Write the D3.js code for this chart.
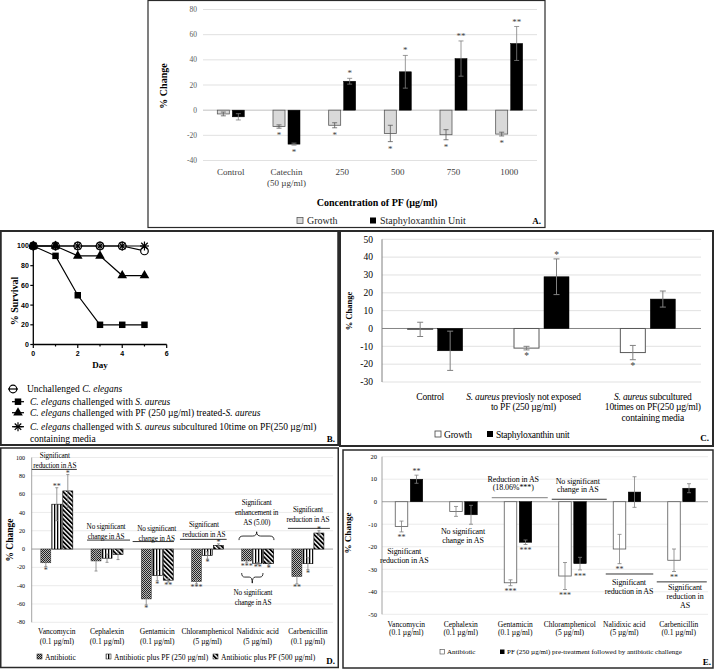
<!DOCTYPE html>
<html><head><meta charset="utf-8">
<script src="https://cdn.jsdelivr.net/npm/d3@7"></script>
<style>body{margin:0;background:#fff}svg{display:block}</style>
</head><body>
<script>
// ================= DATA =================
// Panel A
const aCategories = ["Control", "Catechin|(50 µg/ml)", "250", "500", "750", "1000"];
const aGrowth = [-3, -13, -12, -18.5, -19.5, -19];
const aGrowthErr = [1.5, 1.3, 2, 6.5, 4, 1.5];
const aStaph = [-5.3, -27, 23, 30.5, 41, 53];
const aStaphErr = [2.5, 0.8, 2.3, 13, 14, 13.5];
const aGrowthSig = ["", "*", "*", "*", "*", "*"];
const aStaphSig = ["", "*", "*", "*", "**", "**"];
const aTicks = [-40, -20, 0, 20, 40, 60, 80];

// Panel B
const bDays = [0, 1, 2, 3, 4, 5];
const bUnchallenged = [100, 100, 100, 100, 100, 95];
const bSaureus = [100, 90, 50, 20, 20, 20];
const bPFtreated = [100, 100, 90, 90, 70, 70];
const bSubcultured = [100, 100, 100, 100, 100, 100];
const bYTicks = [0, 20, 40, 60, 80, 100];
const bXTicks = [0, 2, 4, 6];
const bLegend = [
  "Unchallenged ~C. elegans~",
  "~C. elegans~ challenged with ~S. aureus~",
  "~C. elegans~ challenged with PF (250 µg/ml) treated-~S. aureus~",
  "~C. elegans~ challenged with ~S. aureus~ subcultured 10time on PF(250 µg/ml)|containing media"
];

// Panel C
const cCategories = ["Control", "~S. aureus~ previosly not exposed|to PF (250 µg/ml)", "~S. aureus~ subcultured|10times on PF(250 µg/ml)|containing media"];
const cGrowth = [-0.5, -11, -13.5];
const cGrowthErr = [4, 1, 4];
const cStaph = [-12.5, 29, 16.5];
const cStaphErr = [11, 10, 4.5];
const cGrowthSig = ["", "*", "*"];
const cStaphSig = ["", "*", ""];
const cTicks = [-30, -20, -10, 0, 10, 20, 30, 40, 50];

// Panel D
const dCategories = ["Vancomycin|(0.1 µg/ml)", "Cephalexin|(0.1 µg/ml)", "Gentamicin|(0.1 µg/ml)", "Chloramphenicol|(5 µg/ml)", "Nalidixic acid|(5 µg/ml)", "Carbenicillin|(0.1 µg/ml)"];
const dAntibiotic = [-15, -13, -54.5, -35.5, -13, -30];
const dAntibioticErr = [4, 11, 6.5, 2.5, 2, 8];
const dPF250 = [49, -10, -29, -7, -15.5, -16];
const dPF250Err = [18, 4.5, 5.5, 4, 1, 6.5];
const dPF500 = [63.5, -6, -34, 4, -16, 17.5];
const dPF500Err = [18, 5.5, 2, 1.7, 1.5, 2.5];
const dAntibioticSig = ["*", "", "*", "***", "***", "**"];
const dPF250Sig = ["**", "", "*", "*", "**", "*"];
const dPF500Sig = ["*", "", "**", "*", "*", "*"];
const dTicks = [-80, -60, -40, -20, 0, 20, 40, 60, 80, 100];

// Panel E
const eCategories = ["Vancomycin|(0.1 µg/ml)", "Cephalexin|(0.1 µg/ml)", "Gentamicin|(0.1 µg/ml)", "Chloramphenicol|(5 µg/ml)", "Nalidixic acid|(5 µg/ml)", "Carbenicillin|(0.1 µg/ml)"];
const eAntibiotic = [-11, -4.3, -36, -33, -21, -26];
const eAntibioticErr = [2.4, 2.2, 1.3, 6, 6.5, 5];
const ePF = [10, -5.8, -18, -27.5, 4.3, 6];
const ePFErr = [1.8, 4.2, 1, 2.8, 6.8, 2];
const eAntibioticSig = ["**", "", "***", "***", "**", "**"];
const ePFSig = ["**", "", "***", "***", "", ""];
const eTicks = [-50, -40, -30, -20, -10, 0, 10, 20];

// ================= HELPERS =================
const SERIF = "'Liberation Serif','Times New Roman',serif";
const SANS = "'Liberation Sans',Arial,sans-serif";

const svg = d3.select("body").append("svg").attr("width", 714).attr("height", 669);
svg.append("rect").attr("width", 714).attr("height", 669).attr("fill", "#fff");
const defs = svg.append("defs");

function rich(g, x, y, str, size, o = {}) {
  const t = g.append("text").attr("x", x).attr("y", y)
    .attr("font-family", o.family || SERIF).attr("font-size", size)
    .attr("fill", o.fill || "#000").attr("text-anchor", o.anchor || "start");
  if (o.weight) t.attr("font-weight", o.weight);
  if (o.ls) t.attr("letter-spacing", o.ls);
  str.split("~").forEach((s, i) => { if (s) t.append("tspan").attr("font-style", i % 2 ? "italic" : null).text(s); });
  return t;
}
function multi(g, x, y, str, size, lh, o) {
  str.split("|").forEach((s, i) => rich(g, x, y + i * lh, s, size, o));
}
function errBar(g, cx, y, v, e, cap, color, sw) {
  const y1 = y(v - e), y2 = y(v + e);
  g.append("line").attr("x1", cx).attr("x2", cx).attr("y1", y1).attr("y2", y2).attr("stroke", color).attr("stroke-width", sw);
  [y1, y2].forEach(yy => g.append("line").attr("x1", cx - cap / 2).attr("x2", cx + cap / 2)
    .attr("y1", yy).attr("y2", yy).attr("stroke", color).attr("stroke-width", sw));
}
function sig(g, cx, y, v, e, s, size, off, color) {
  if (!s) return;
  const cy = v < 0 ? y(v - e) + off : y(v + e) - off;
  g.append("text").attr("x", cx).attr("y", cy + 0.45 * size).attr("text-anchor", "middle")
    .attr("font-family", SERIF).attr("font-size", size).attr("fill", color).text(s);
}
function grid(g, y, ticks, x0, x1, color, zeroColor, sw) {
  ticks.forEach(t => g.append("line").attr("x1", x0).attr("x2", x1).attr("y1", y(t)).attr("y2", y(t))
    .attr("stroke", t === 0 ? zeroColor : color).attr("stroke-width", t === 0 ? sw * 1.2 : sw));
}
function yLabels(g, y, ticks, x, size, color) {
  ticks.forEach(t => g.append("text").attr("x", x).attr("y", y(t)).attr("dy", "0.35em")
    .attr("text-anchor", "end").attr("font-family", SERIF).attr("font-size", size).attr("fill", color)
    .text(t));
}
function vLabel(g, x, cy, str, size) {
  g.append("text").attr("transform", `translate(${x},${cy}) rotate(-90)`).attr("text-anchor", "middle")
    .attr("dy", "0.35em").attr("font-family", SERIF).attr("font-size", size).attr("font-weight", "bold").text(str);
}
function frame(x, y, w, h, sw) {
  svg.append("rect").attr("x", x).attr("y", y).attr("width", w).attr("height", h)
    .attr("fill", "none").attr("stroke", "#2a2a2a").attr("stroke-width", sw);
}
function bars(g, vals, cats, x, y, dx, w, fill, stroke, sw) {
  g.append("g").selectAll("rect").data(vals).join("rect")
    .attr("x", (d, i) => x(cats[i]) + x.bandwidth() / 2 + dx)
    .attr("y", d => y(Math.max(0, d))).attr("width", w)
    .attr("height", d => Math.abs(y(d) - y(0)))
    .attr("fill", fill).attr("stroke", stroke).attr("stroke-width", sw);
}

// ================= PANEL A =================
{
  const g = svg.append("g");
  const x = d3.scaleBand().domain(aCategories).range([203, 537]);
  const y = d3.scaleLinear().domain([-40, 80]).range([160.5, 9.5]);
  grid(g, y, aTicks, 203, 537, "#d9d9d9", "#bfbfbf", 0.8);
  yLabels(g, y, aTicks, 197, 7.5, "#595959");
  bars(g, aGrowth, aCategories, x, y, -13.5, 12, "#d9d9d9", "#595959", 0.8);
  bars(g, aStaph, aCategories, x, y, 1.5, 12, "#000", "#000", 0.5);
  aCategories.forEach((c, i) => {
    const cx = x(c) + x.bandwidth() / 2;
    errBar(g, cx - 7.5, y, aGrowth[i], aGrowthErr[i], 5, "#595959", 0.8);
    errBar(g, cx + 7.5, y, aStaph[i], aStaphErr[i], 5, "#7f7f7f", 0.8);
    sig(g, cx - 7.5, y, aGrowth[i], aGrowthErr[i], aGrowthSig[i], 9, 6, "#404040");
    sig(g, cx + 7.5, y, aStaph[i], aStaphErr[i], aStaphSig[i], 9, 6, "#404040");
    multi(g, cx, 175, c, 9, 10.5, { anchor: "middle", fill: "#404040" });
  });
  g.append("text").attr("x", 377).attr("y", 206).attr("text-anchor", "middle").attr("font-family", SERIF)
    .attr("font-size", 10).attr("font-weight", "bold").text("Concentration of PF (µg/ml)");
  vLabel(g, 163, 86, "% Change", 10);
  g.append("rect").attr("x", 297).attr("y", 217.5).attr("width", 6).attr("height", 6).attr("fill", "#d9d9d9").attr("stroke", "#595959").attr("stroke-width", 0.8);
  rich(g, 307, 224, "Growth", 10, { fill: "#262626" });
  g.append("rect").attr("x", 370).attr("y", 217.5).attr("width", 6).attr("height", 6).attr("fill", "#000");
  rich(g, 380, 224, "Staphyloxanthin Unit", 10, { fill: "#262626" });
  rich(g, 541, 224, "A.", 9, { anchor: "end", weight: "bold" });
}

// ================= PANEL B =================
{
  const g = svg.append("g");
  const x = d3.scaleLinear().domain([0, 6]).range([33.3, 166.7]);
  const y = d3.scaleLinear().domain([0, 100]).range([344.5, 246]);
  g.append("line").attr("x1", x(0)).attr("x2", x(0)).attr("y1", y(0)).attr("y2", y(100)).attr("stroke", "#000").attr("stroke-width", 1.3);
  g.append("line").attr("x1", x(0)).attr("x2", x(6)).attr("y1", y(0)).attr("y2", y(0)).attr("stroke", "#000").attr("stroke-width", 1.3);
  bYTicks.forEach(t => {
    g.append("line").attr("x1", x(0) - 3).attr("x2", x(0)).attr("y1", y(t)).attr("y2", y(t)).attr("stroke", "#000").attr("stroke-width", 1.2);
    g.append("text").attr("x", x(0) - 4.5).attr("y", y(t)).attr("dy", "0.35em").attr("text-anchor", "end")
      .attr("font-family", SANS).attr("font-weight", "bold").attr("font-size", 7).text(t);
  });
  d3.range(0, 7).forEach(t => {
    g.append("line").attr("x1", x(t)).attr("x2", x(t)).attr("y1", y(0)).attr("y2", y(0) + (t % 2 ? 2 : 3.5)).attr("stroke", "#000").attr("stroke-width", 1.2);
  });
  bXTicks.forEach(t => g.append("text").attr("x", x(t)).attr("y", y(0) + 11).attr("text-anchor", "middle")
    .attr("font-family", SANS).attr("font-weight", "bold").attr("font-size", 7).text(t));
  g.append("text").attr("x", 100).attr("y", 368).attr("text-anchor", "middle").attr("font-family", SERIF)
    .attr("font-weight", "bold").attr("font-size", 9).text("Day");
  vLabel(g, 14, 301, "% Survival", 10);

  const series = [bUnchallenged, bSaureus, bPFtreated, bSubcultured];
  const line = d3.line().x((d, i) => x(bDays[i])).y(d => y(d));
  series.forEach(s => g.append("path").attr("d", line(s)).attr("fill", "none").attr("stroke", "#000").attr("stroke-width", 1.2));

  const star = (gg, cx, cy, r) => {
    [[r, 0], [0, r], [r * 0.72, r * 0.72], [r * 0.72, -r * 0.72]].forEach(([dx, dy]) =>
      gg.append("line").attr("x1", cx - dx).attr("x2", cx + dx).attr("y1", cy - dy).attr("y2", cy + dy).attr("stroke", "#000").attr("stroke-width", 1.2));
  };
  const marker = (gg, k, cx, cy) => {
    if (k === 0) gg.append("circle").attr("cx", cx).attr("cy", cy).attr("r", 3.8).attr("fill", "#fff").attr("stroke", "#000").attr("stroke-width", 1.2);
    if (k === 1) gg.append("path").attr("transform", `translate(${cx},${cy})`).attr("d", d3.symbol(d3.symbolSquare, 42)()).attr("fill", "#000");
    if (k === 2) gg.append("path").attr("transform", `translate(${cx},${cy})`).attr("d", d3.symbol(d3.symbolTriangle, 40)()).attr("fill", "#000");
    if (k === 3) star(gg, cx, cy, 4.5);
  };
  [0, 3, 1, 2].forEach(k => series[k].forEach((d, i) => marker(g, k, x(bDays[i]), y(d))));

  const ly = [389, 401.7, 412.7, 426.7];
  bLegend.forEach((txt, k) => {
    if (k === 0) {
      marker(g, 0, 13, ly[k]);
      g.append("line").attr("x1", 8).attr("x2", 18).attr("y1", ly[k]).attr("y2", ly[k]).attr("stroke", "#000").attr("stroke-width", 1.2);
      multi(g, 27, ly[k] + 3.3, txt, 9.5, 11.5, {});
    } else {
      g.append("line").attr("x1", 12).attr("x2", 24).attr("y1", ly[k]).attr("y2", ly[k]).attr("stroke", "#000").attr("stroke-width", 1.2);
      marker(g, k, 18, ly[k]);
      multi(g, 30, ly[k] + 3.3, txt, 9.5, 11.5, {});
    }
  });
  rich(g, 335, 442, "B.", 9, { anchor: "end", weight: "bold" });
}

// ================= PANEL C =================
{
  const g = svg.append("g");
  const x = d3.scaleBand().domain(cCategories).range([382, 701]);
  const y = d3.scaleLinear().domain([-30, 50]).range([382, 239.3]);
  grid(g, y, cTicks, 382, 701, "#d9d9d9", "#808080", 0.8);
  g.append("line").attr("x1", 382).attr("x2", 382).attr("y1", y(50)).attr("y2", y(-30)).attr("stroke", "#808080").attr("stroke-width", 1);
  yLabels(g, y, cTicks, 373, 9.5, "#000");
  bars(g, cGrowth, cCategories, x, y, -27.5, 25, "#fff", "#595959", 1);
  bars(g, cStaph, cCategories, x, y, 2.5, 25, "#000", "#000", 0.5);
  const labDx = [-5, -18, 5];
  cCategories.forEach((c, i) => {
    const cx = x(c) + x.bandwidth() / 2;
    errBar(g, cx - 15, y, cGrowth[i], cGrowthErr[i], 6, "#808080", 1);
    errBar(g, cx + 15, y, cStaph[i], cStaphErr[i], 6, "#808080", 1);
    sig(g, cx - 15, y, cGrowth[i], cGrowthErr[i], cGrowthSig[i], 9.5, 5, "#404040");
    sig(g, cx + 15, y, cStaph[i], cStaphErr[i], cStaphSig[i], 9.5, 5, "#404040");
    multi(g, cx + labDx[i], 399.5, c, 9.5, 10.5, { anchor: "middle", ls: -0.2 });
  });
  vLabel(g, 349, 311, "% Change", 8.5);
  g.append("rect").attr("x", 435).attr("y", 431).attr("width", 6).attr("height", 6).attr("fill", "#fff").attr("stroke", "#404040").attr("stroke-width", 0.8);
  rich(g, 444, 437.5, "Growth", 9.5, { ls: -0.2 });
  g.append("rect").attr("x", 487).attr("y", 431).attr("width", 6).attr("height", 6).attr("fill", "#000");
  rich(g, 496, 437.5, "Staphyloxanthin unit", 9.5, { ls: -0.3 });
  rich(g, 709, 441, "C.", 9, { anchor: "end", weight: "bold" });
}

// ================= PANEL D =================
{
  // patterns
  const p1 = defs.append("pattern").attr("id", "pAb").attr("patternUnits", "userSpaceOnUse").attr("width", 2).attr("height", 2);
  p1.append("rect").attr("width", 2).attr("height", 2).attr("fill", "#bbb");
  p1.append("rect").attr("width", 1).attr("height", 1).attr("fill", "#222");
  p1.append("rect").attr("x", 1).attr("y", 1).attr("width", 1).attr("height", 1).attr("fill", "#222");
  const p2 = defs.append("pattern").attr("id", "pV").attr("patternUnits", "userSpaceOnUse").attr("width", 3).attr("height", 3);
  p2.append("rect").attr("width", 3).attr("height", 3).attr("fill", "#fff");
  p2.append("rect").attr("width", 1.3).attr("height", 3).attr("fill", "#000");
  const p3 = defs.append("pattern").attr("id", "pD").attr("patternUnits", "userSpaceOnUse").attr("width", 3.2).attr("height", 3.2).attr("patternTransform", "rotate(-45)");
  p3.append("rect").attr("width", 3.2).attr("height", 3.2).attr("fill", "#fff");
  p3.append("rect").attr("width", 1.8).attr("height", 3.2).attr("fill", "#000");

  const g = svg.append("g");
  const x = d3.scaleBand().domain(dCategories).range([31.7, 333]);
  const y = d3.scaleLinear().domain([-80, 100]).range([622.3, 457.5]);
  grid(g, y, dTicks, 31.7, 333, "#e3e3e3", "#8c8c8c", 0.7);
  g.append("line").attr("x1", 31.7).attr("x2", 31.7).attr("y1", y(100)).attr("y2", y(-80)).attr("stroke", "#8c8c8c").attr("stroke-width", 0.8);
  yLabels(g, y, dTicks, 25, 6, "#000");
  bars(g, dAntibiotic, dCategories, x, y, -16, 10, "url(#pAb)", "#333", 0.5);
  bars(g, dPF250, dCategories, x, y, -5, 10, "url(#pV)", "#000", 0.6);
  bars(g, dPF500, dCategories, x, y, 6, 10, "url(#pD)", "#000", 0.6);
  dCategories.forEach((c, i) => {
    const cx = x(c) + x.bandwidth() / 2;
    [[dAntibiotic, dAntibioticErr, dAntibioticSig, -11], [dPF250, dPF250Err, dPF250Sig, 0], [dPF500, dPF500Err, dPF500Sig, 11]]
      .forEach(([v, e, s, dx]) => {
        errBar(g, cx + dx, y, v[i], e[i], 3, "#7f7f7f", 0.8);
        sig(g, cx + dx, y, v[i], e[i], s[i], 8, 2.5, "#333");
      });
    multi(g, cx, 634.2, c, 7.5, 10, { anchor: "middle" });
  });
  // annotations (anchored to category bands and value scale)
  const bc = i => x(dCategories[i]) + x.bandwidth() / 2;
  const notes = [
    { i: 0, dx: -2, v: 100, lines: "Significant|reduction in AS", ul: [87, -25, 20] },
    { i: 1, dx: -1, v: 21.7, lines: "No significant|change in AS", ul: [9.8, -20, 23] },
    { i: 2, dx: -0.6, v: 20.2, lines: "No significant|change in AS", ul: [8.2, -24.6, 16.7] },
    { i: 3, dx: -3.5, v: 24.6, lines: "Significant|reduction in AS", ul: [10.6, -27.5, 19.2] },
    { i: 4, dx: -1, v: 47.6, lines: "Significant|enhancement in|AS (5.00)" },
    { i: 4, dx: -4.7, v: -50.3, lines: "No significant|change in AS" },
    { i: 5, dx: 0, v: 40, lines: "Significant|reduction in AS", ul: [22.6, -20, 22] }
  ];
  notes.forEach(n => {
    multi(g, bc(n.i) + n.dx, y(n.v), n.lines, 7.2, 10, { anchor: "middle", ls: -0.15 });
    if (n.ul) g.append("line").attr("x1", bc(n.i) + n.ul[1]).attr("x2", bc(n.i) + n.ul[2])
      .attr("y1", y(n.ul[0])).attr("y2", y(n.ul[0])).attr("stroke", "#000").attr("stroke-width", 0.8);
  });
  // braces for Nalidixic acid
  const c4 = bc(4);
  const yb = y(14.2), ye = y(9.8), yt = y(18.9);
  g.append("path").attr("d", `M${c4 - 18.7},${ye} Q${c4 - 18.7},${yb} ${c4 - 14.7},${yb} L${c4 - 5},${yb} Q${c4 - 1},${yb} ${c4 - 1},${yt} Q${c4 - 1},${yb} ${c4 + 3},${yb} L${c4 + 12.3},${yb} Q${c4 + 16.3},${yb} ${c4 + 16.3},${ye}`)
    .attr("fill", "none").attr("stroke", "#000").attr("stroke-width", 0.8);
  const yb2 = y(-30.6), ye2 = y(-26.2), yt2 = y(-37.2);
  g.append("path").attr("d", `M${c4 - 16},${ye2} Q${c4 - 16},${yb2} ${c4 - 13},${yb2} L${c4 - 8.4},${yb2} Q${c4 - 5.4},${yb2} ${c4 - 5.4},${yt2} Q${c4 - 5.4},${yb2} ${c4 - 2.4},${yb2} L${c4 + 2.3},${yb2} Q${c4 + 5.3},${yb2} ${c4 + 5.3},${ye2}`)
    .attr("fill", "none").attr("stroke", "#000").attr("stroke-width", 0.8);

  vLabel(g, 10, 540, "% Change", 9.5);
  const leg = [["url(#pAb)", 37, "Antibiotic"], ["url(#pV)", 106, "Antibiotic plus PF (250 µg/ml)"], ["url(#pD)", 213, "Antibiotic plus PF (500 µg/ml)"]];
  leg.forEach(([f, lx, t]) => {
    g.append("rect").attr("x", lx).attr("y", 654).attr("width", 5).attr("height", 5).attr("fill", f).attr("stroke", "#000").attr("stroke-width", 0.5);
    rich(g, lx + 8, 659.5, t, 7.6, {});
  });
  rich(g, 335, 664, "D.", 9, { anchor: "end", weight: "bold" });
}

// ================= PANEL E =================
{
  const g = svg.append("g");
  const x = d3.scaleBand().domain(eCategories).range([382, 709]);
  const y = d3.scaleLinear().domain([-50, 20]).range([614.3, 456.7]);
  grid(g, y, eTicks, 382, 708, "#e3e3e3", "#8c8c8c", 0.7);
  g.append("line").attr("x1", 382).attr("x2", 382).attr("y1", y(20)).attr("y2", y(-50)).attr("stroke", "#8c8c8c").attr("stroke-width", 0.8);
  yLabels(g, y, eTicks, 377, 6.5, "#000");
  bars(g, eAntibiotic, eCategories, x, y, -14, 12.5, "#fff", "#595959", 0.8);
  bars(g, ePF, eCategories, x, y, 1, 12.5, "#000", "#000", 0.5);
  eCategories.forEach((c, i) => {
    const cx = x(c) + x.bandwidth() / 2;
    errBar(g, cx - 7.75, y, eAntibiotic[i], eAntibioticErr[i], 4, "#808080", 0.8);
    errBar(g, cx + 7.25, y, ePF[i], ePFErr[i], 4, "#808080", 0.8);
    sig(g, cx - 7.75, y, eAntibiotic[i], eAntibioticErr[i], eAntibioticSig[i], 8, 5, "#333");
    sig(g, cx + 7.25, y, ePF[i], ePFErr[i], ePFSig[i], 8, 5, "#333");
    multi(g, cx - 3, 626.5, c, 7.5, 8.7, { anchor: "middle" });
  });
  const bc = i => x(eCategories[i]) + x.bandwidth() / 2;
  const notes = [
    { i: 0, dx: -5, v: -23.1, lines: "Significant|reduction in AS" },
    { i: 1, dx: -0.75, v: -14.5, lines: "No significant|change in AS" },
    { i: 2, dx: -5, v: 8.8, lines: "Reduction in AS|(18.06%***)", ul: [1.8, -26.5, 29.5], gray: true },
    { i: 3, dx: 5, v: 7.7, lines: "No significant|change in AS", ul: [1.1, -21, 34] },
    { i: 4, dx: 1.75, v: -36.8, lines: "Significant|reduction in AS", ul: [-32.1, -21.5, 26] },
    { i: 5, dx: 3.25, v: -39, lines: "Significant|reduction in|AS", ul: [-35.6, -25, 25] }
  ];
  notes.forEach(n => {
    multi(g, bc(n.i) + n.dx, y(n.v), n.lines, 8, n.i === 2 || n.i === 3 ? 8 : 9.1, { anchor: "middle", ls: -0.1 });
    if (n.ul) g.append("line").attr("x1", bc(n.i) + n.ul[1]).attr("x2", bc(n.i) + n.ul[2])
      .attr("y1", y(n.ul[0])).attr("y2", y(n.ul[0])).attr("stroke", n.gray ? "#999" : "#000").attr("stroke-width", n.gray ? 1.3 : 0.8);
  });
  vLabel(g, 348, 533, "% Change", 9);
  g.append("rect").attr("x", 440).attr("y", 649.5).attr("width", 4.5).attr("height", 4.5).attr("fill", "#fff").attr("stroke", "#404040").attr("stroke-width", 0.6);
  rich(g, 447, 654, "Antibiotic", 7, {});
  g.append("rect").attr("x", 500).attr("y", 649.5).attr("width", 4.5).attr("height", 4.5).attr("fill", "#000");
  rich(g, 507, 654, "PF (250 µg/ml) pre-treatment followed by antibiotic challenge", 7, {});
  rich(g, 711, 665, "E.", 9, { anchor: "end", weight: "bold" });
}

// ================= FRAMES =================
frame(148, 0.5, 397, 227, 1.2);
frame(0.75, 231, 337.5, 214, 2);
frame(340, 231, 373, 215, 2);
frame(0.75, 448, 337.5, 219.5, 1.5);
frame(343, 450, 370, 218, 1.5);
</script>
</body></html>
